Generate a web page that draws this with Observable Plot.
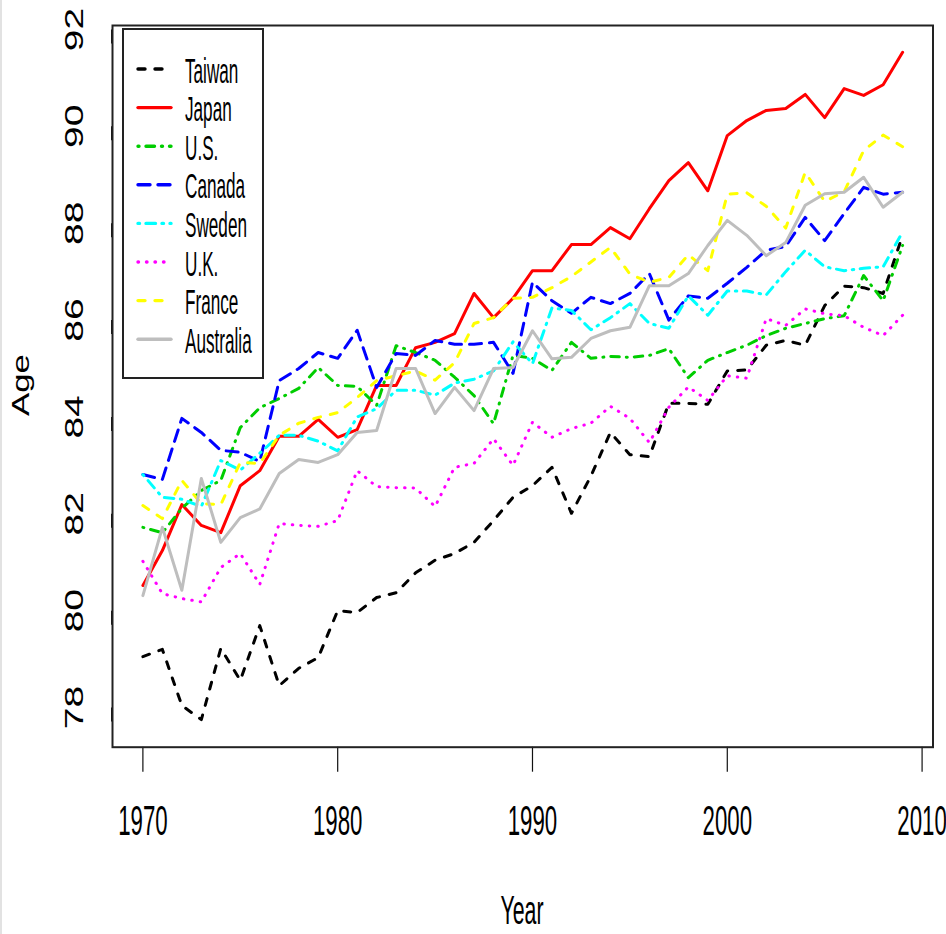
<!DOCTYPE html>
<html>
<head>
<meta charset="utf-8">
<script src="https://cdn.jsdelivr.net/npm/d3@7"></script>
<script src="https://cdn.jsdelivr.net/npm/@observablehq/plot@0.6"></script>
<style>
  html, body { margin: 0; padding: 0; background: #fff; }
  #chart { position: relative; width: 946px; height: 934px; overflow: hidden; }
  #edge { position: absolute; left: 0; top: 0; width: 2px; height: 934px; background: #e2e2e2; }
</style>
</head>
<body>
<div id="chart"><div id="edge"></div></div>
<script>
// Life expectancy (age) by country, 1970-2009
const years = [
  1970, 1971, 1972, 1973, 1974, 1975, 1976, 1977, 1978, 1979,
  1980, 1981, 1982, 1983, 1984, 1985, 1986, 1987, 1988, 1989,
  1990, 1991, 1992, 1993, 1994, 1995, 1996, 1997, 1998, 1999,
  2000, 2001, 2002, 2003, 2004, 2005, 2006, 2007, 2008, 2009
];

const taiwan = [
  79.05, 79.2, 78.04, 77.75, 79.22, 78.56, 79.69, 78.45, 78.81, 79.03,
  80.0, 79.96, 80.27, 80.37, 80.78, 81.04, 81.18, 81.41, 81.86, 82.34,
  82.58, 82.96, 82.01, 82.78, 83.68, 83.22, 83.18, 84.28, 84.28, 84.26,
  84.95, 84.97, 85.48, 85.58, 85.48, 86.3, 86.7, 86.67, 86.55, 87.75
];
const japan = [
  80.52, 81.24, 82.19, 81.76, 81.61, 82.58, 82.89, 83.6, 83.6, 83.95,
  83.58, 83.74, 84.65, 84.65, 85.43, 85.54, 85.72, 86.55, 86.05, 86.45,
  87.02, 87.02, 87.56, 87.56, 87.91, 87.68, 88.3, 88.88, 89.25, 88.67,
  89.81, 90.12, 90.33, 90.37, 90.66, 90.18, 90.78, 90.64, 90.86, 91.53
];
const us = [
  81.72, 81.61, 82.11, 82.48, 82.69, 83.78, 84.19, 84.38, 84.59, 85.02,
  84.65, 84.63, 84.24, 85.47, 85.33, 85.17, 84.82, 84.44, 83.86, 85.27,
  85.21, 84.96, 85.54, 85.21, 85.25, 85.23, 85.27, 85.41, 84.81, 85.17,
  85.33, 85.48, 85.68, 85.83, 85.93, 86.03, 86.09, 86.92, 86.4, 87.54
];
const canada = [
  82.81, 82.71, 83.97, 83.68, 83.31, 83.27, 83.08, 84.75, 85.0, 85.33,
  85.21, 85.79, 84.61, 85.31, 85.27, 85.58, 85.5, 85.5, 85.54, 84.9,
  86.78, 86.4, 86.14, 86.47, 86.34, 86.55, 86.96, 86.0, 86.5, 86.45,
  86.76, 87.09, 87.44, 87.52, 88.12, 87.64, 88.2, 88.74, 88.6, 88.64
];
const sweden = [
  82.81, 82.34, 82.3, 82.15, 83.1, 82.9, 83.25, 83.62, 83.62, 83.5,
  83.3, 84.0, 84.17, 84.55, 84.55, 84.45, 84.7, 84.78, 84.95, 85.55,
  85.1, 86.25, 86.2, 85.8, 86.05, 86.34, 85.93, 85.83, 86.5, 86.1,
  86.6, 86.6, 86.52, 87.0, 87.44, 87.1, 87.02, 87.07, 87.1, 87.82
];
const uk = [
  81.02, 80.35, 80.25, 80.18, 80.89, 81.18, 80.54, 81.8, 81.76, 81.74,
  81.86, 82.89, 82.56, 82.54, 82.53, 82.15, 82.96, 83.04, 83.55, 83.0,
  83.89, 83.58, 83.76, 83.87, 84.22, 83.97, 83.47, 84.2, 84.62, 84.34,
  84.85, 84.8, 86.03, 85.89, 86.23, 86.13, 86.09, 85.85, 85.68, 86.1
];
const france = [
  82.17, 81.9, 82.69, 82.21, 82.19, 83.06, 83.04, 83.62, 83.87, 83.99,
  84.09, 84.4, 84.75, 84.85, 84.95, 84.76, 85.12, 85.93, 86.05, 86.45,
  86.47, 86.67, 86.9, 87.2, 87.5, 86.95, 86.78, 86.88, 87.35, 87.02,
  88.6, 88.63, 88.35, 87.9, 89.05, 88.45, 88.65, 89.5, 89.82, 89.58
];
const australia = [
  80.31, 81.72, 80.42, 82.73, 81.41, 81.92, 82.1, 82.83, 83.12, 83.06,
  83.22, 83.68, 83.72, 85.0, 85.0, 84.07, 84.61, 84.13, 85.0, 85.02,
  85.78, 85.2, 85.23, 85.62, 85.78, 85.85, 86.71, 86.71, 86.96, 87.54,
  88.06, 87.75, 87.33, 87.6, 88.37, 88.61, 88.64, 88.95, 88.33, 88.64
];

const countries = ["Taiwan", "Japan", "U.S.", "Canada", "Sweden", "U.K.", "France", "Australia"];
const seriesValues = [taiwan, japan, us, canada, sweden, uk, france, australia];
const colors = ["#000000", "#FF0000", "#00CD00", "#0000FF", "#00FFFF", "#FF00FF", "#FFFF00", "#BEBEBE"];
// dashed, solid, dot-dash, long dash, two-dash, dotted, dashed, solid
const dashes = ["7,10", null, "1,7,8.5,7", "12,8", "1.5,6.5,9.5,6.5", "0.5,8", "7,10", null];

const xTicks = [1970, 1980, 1990, 2000, 2010];
const yTicks = [78, 80, 82, 84, 86, 88, 90, 92];

const font = "'Liberation Sans', Arial, Helvetica, sans-serif";
const lineWidth = 3;

const lineMarks = countries.map((name, i) => {
  const rows = years.map((year, j) => ({year, age: seriesValues[i][j], country: name}));
  const opts = {
    x: "year", y: "age",
    stroke: colors[i], strokeWidth: lineWidth,
    strokeLinecap: "round", strokeLinejoin: "round"
  };
  if (dashes[i]) opts.strokeDasharray = dashes[i];
  return Plot.line(rows, opts);
});

const chart = Plot.plot({
  width: 946,
  height: 934,
  marginLeft: 112,
  marginRight: 13.5,
  marginTop: 25,
  marginBottom: 187.3,
  x: {domain: [1968.44, 2010.56]},
  y: {domain: [77.18, 92.083]},
  style: {fontFamily: font, background: "#fff", color: "#000", overflow: "visible"},
  marks: [
    Plot.axisX({
      ticks: xTicks, tickFormat: d => String(d), label: null,
      tickSize: 25, tickPadding: 33, fontSize: 42, lineAnchor: "top",
      stroke: "#111", strokeWidth: 1.2
    }),
    Plot.axisY({
      ticks: yTicks, tickFormat: d => String(d), label: null,
      tickSize: 14, tickPadding: 16, fontSize: 26,
      rotate: -90, textAnchor: "middle", lineAnchor: "bottom",
      stroke: "#111", strokeWidth: 2
    }),
    ...lineMarks,
    Plot.frame({stroke: "#222", strokeWidth: 2})
  ]
});

document.getElementById("chart").appendChild(chart);

// condensed letterforms for the tick labels
const svg = d3.select(chart);
svg.selectAll('[aria-label="x-axis tick label"] text').each(function () {
  const t = this.getAttribute("transform") || "";
  this.setAttribute("transform", t + " scale(0.53,1)");
});
svg.selectAll('[aria-label="y-axis tick label"] text').each(function () {
  const t = this.getAttribute("transform") || "";
  this.setAttribute("transform", t + " scale(1.5,1)");
});

// axis titles
svg.append("text")
  .attr("transform", "translate(522,924) scale(0.52,1)")
  .attr("text-anchor", "middle")
  .attr("font-family", font)
  .attr("font-size", 41)
  .attr("fill", "#000")
  .text("Year");

svg.append("text")
  .attr("transform", "translate(29,385) rotate(-90) scale(1.45,1)")
  .attr("text-anchor", "middle")
  .attr("font-family", font)
  .attr("font-size", 24)
  .attr("fill", "#000")
  .text("Age");

// legend
const legend = svg.append("g").attr("aria-label", "legend");
legend.append("rect")
  .attr("x", 123).attr("y", 29).attr("width", 140).attr("height", 349)
  .attr("fill", "#fff").attr("stroke", "#222").attr("stroke-width", 2);

countries.forEach((name, i) => {
  const cy = 69 + i * 38.6;
  const seg = legend.append("line")
    .attr("x1", 138).attr("x2", 171).attr("y1", cy).attr("y2", cy)
    .attr("stroke", colors[i]).attr("stroke-width", 3.4)
    .attr("stroke-linecap", "round");
  if (dashes[i]) seg.attr("stroke-dasharray", dashes[i]);
  legend.append("text")
    .attr("transform", `translate(185,${cy + 13.5}) scale(0.49,1)`)
    .attr("text-anchor", "start")
    .attr("font-family", font)
    .attr("font-size", 35)
    .attr("fill", "#000")
    .text(name);
});
</script>
</body>
</html>
